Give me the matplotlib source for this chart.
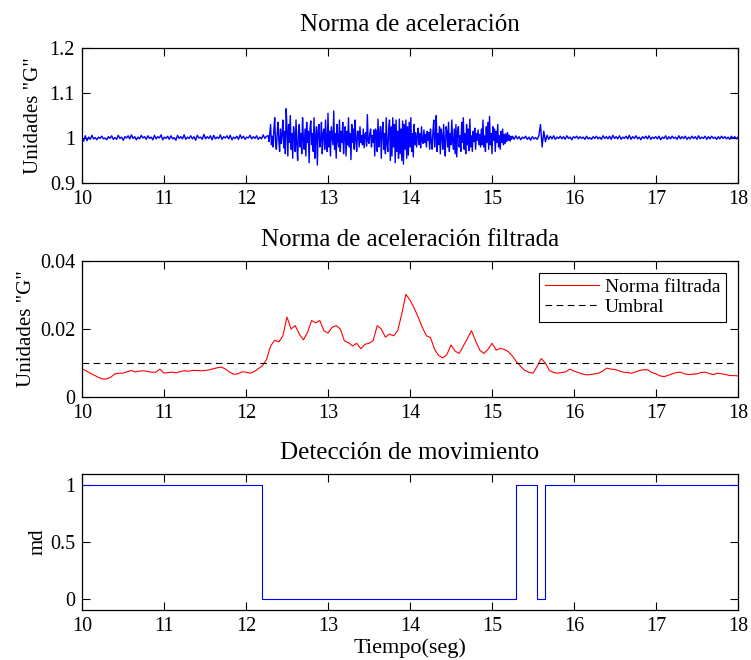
import numpy as np
import matplotlib
matplotlib.use("Agg")
import matplotlib.pyplot as plt

# ---------------- data ----------------
# Acceleration norm: deviation from 1 G, in thousandths of G, read per segment
acc_seg_edges = [10.0, 12.27, 15.25, 18.0]
acc_dev_quiet1 = [3, -7, 5, -6, 2, -3, 6, -2, 1, -4, 2, -1, 4, -2, 0, -4, 3, -1, 5, -3,
                  1, -3, 6, -1, 2, -5, 3, 0, 5, -2, 7, -1, 3, -4, 2, -2, 6, 0, 3, -3,
                  5, -1, 2, -4, 6, -2, 3, 0, 7, -4, 2, -1, 4, -3, 5, -2, 1, -5, 6, -1,
                  3, -2, 7, -3, 2, -1, 5, -2, 3, -5, 6, 0, 2, -3, 8, -2, 3, -1, 5, -4,
                  6, -2, 2, -1, 7, -3, 3, 0, 5, -2, 6, -4, 2, -1, 4, -3, 7, -1, 4, -3,
                  2, 0, 6, -2, 3, -1, 5, -3, 2, -2, 7, -1, 4]
acc_dev_active = [5, -8, 12, 30, -15, 4, -20, 18, 45, -10,
                  -25, 10, 35, -5, -30, 20, -12, 8, 40, -22,
                  15, -35, 65, 20, -40, 30, -10, 50, -25, 10,
                  -45, 25, 5, -30, 40, -15, -50, 15, 30, -20,
                  10, -35, 45, -5, -25, 20, -40, 35, -10, 15,
                  -55, 20, 38, -15, 10, -30, 45, -45, 5, 25,
                  -60, 15, 30, -20, -5, 35, -35, 10, 20, -25,
                  40, -10, -30, 55, -20, 15, -40, 25, 5, -15,
                  60, -25, 10, -45, 30, -5, -20, 40, -30, 15,
                  -10, 35, -35, 5, 25, -40, 15, -15, 45, -20,
                  10, -48, 30, -10, 20, -25, 40, -5, -30, 15,
                  15, -20, 25, -10, 5, -15, 20, -22, 8, 12,
                  -18, 52, -8, -12, 10, 20, -20, 5, -10, 18,
                  -40, 20, 10, -30, 42, -20, 5, 25, -45, 15,
                  35, -25, 10, -35, 45, -15, -30, 20, 40, -50,
                  25, -40, 45, -20, 30, -55, 40, -30, 15, -45,
                  42, -35, 20, -50, 38, -58, 30, -25, 40, -45,
                  25, -38, 35, -20, 45, -30, 10, -42, 30, -15,
                  12, -20, 5, 22, -15, 10, -22, 25, -8, -12,
                  18, -10, 8, -20, 15, -5, 12, -25, 20, -8,
                  -25, 15, 40, -20, 5, 50, -30, 10, -15, 25,
                  -35, 20, 5, -25, 30, -10, -40, 25, 15, -20,
                  35, -30, 10, -15, 40, -5, -25, 20, -35, 30,
                  -42, 15, 25, -20, 5, -30, 35, -10, 45, -25,
                  10, -35, 30, -15, 20, -28, 42, -20, 5, -30,
                  15, -8, 22, -25, 10, -5, 18, -15, 8, -20,
                  20, -15, 40, -20, 5, -30, 25, -10, 35, -25,
                  48, -15, 10, -35, 25, -5, 20, -30, 15, -10,
                  30, -20, 5, -25, 15, -10, 20, -15, 8, -12,
                  10, -8, 12, -5, 6, -7, 4, -3]
acc_dev_quiet2 = [4, -3, 5, -2, 3, -4, 2, -1, 4, -3, 2, -5, 3, -2, 1, -3, 5, 30, -20, 15,
                  -8, 6, -3, 4, -2, 5, -3, 2, -1, 4, -2, 3, -3, 5, -1, 2, -4, 3, 0, 4,
                  -2, 3, -1, 2, -3, 4, -2, 1, -3, 3, -1, 4, -2, 2, -3, 5, -1, 3, -2, 4,
                  -3, 6, -1, 3, -2, 5, -3, 2, -1, 4, -2, 6, -3, 3, -1, 5, -2, 2, -4, 3,
                  -1, 4, -2, 5, -3, 2, -1, 3, -2, 4, -4, 2, -1, 5, -3, 3, -2, 4, -1, 2,
                  -3, 5, -2, 3, -1, 4, -3, 2, -2, 4, -1, 3, -3, 5, -2, 2, -1, 4, -3, 3,
                  -2, 4, -1, 2, -3, 3, -2, 4, -1, 3, -2, 2, -3, 4, -1, 3, -2, 2]

# Filtered norm (G)
filt_t = [10.0, 10.05, 10.1, 10.15, 10.2, 10.25, 10.3, 10.35, 10.4, 10.45, 10.5, 10.55, 10.6, 10.65,
          10.7, 10.75, 10.8, 10.85, 10.9, 10.95, 11.0, 11.05, 11.1, 11.15, 11.2, 11.25, 11.3, 11.35,
          11.4, 11.45, 11.5, 11.55, 11.6, 11.65, 11.7, 11.75, 11.8, 11.85, 11.9, 11.95, 12.0, 12.05,
          12.1, 12.15, 12.2, 12.25, 12.3, 12.35, 12.4, 12.45, 12.5, 12.55, 12.6, 12.65, 12.7, 12.75,
          12.8, 12.85, 12.9, 12.95, 13.0, 13.05, 13.1, 13.15, 13.2, 13.25, 13.3, 13.35, 13.4, 13.45,
          13.5, 13.55, 13.6, 13.65, 13.7, 13.75, 13.8, 13.85, 13.9, 13.95, 14.0, 14.05, 14.1, 14.15,
          14.2, 14.25, 14.3, 14.35, 14.4, 14.45, 14.5, 14.55, 14.6, 14.65, 14.7, 14.75, 14.8, 14.85,
          14.9, 14.95, 15.0, 15.05, 15.1, 15.15, 15.2, 15.25, 15.3, 15.35, 15.4, 15.45, 15.5, 15.55,
          15.6, 15.65, 15.7, 15.75, 15.8, 15.85, 15.9, 15.95, 16.0, 16.05, 16.1, 16.15, 16.2, 16.25,
          16.3, 16.35, 16.4, 16.45, 16.5, 16.55, 16.6, 16.65, 16.7, 16.75, 16.8, 16.85, 16.9, 16.95,
          17.0, 17.05, 17.1, 17.15, 17.2, 17.25, 17.3, 17.35, 17.4, 17.45, 17.5, 17.55, 17.6, 17.65,
          17.7, 17.75, 17.8, 17.85, 17.9, 17.95, 18.0]
filt_v = [0.0083, 0.0077, 0.0070, 0.0064, 0.0058, 0.0053, 0.0053, 0.0058, 0.0068, 0.0070, 0.0070, 0.0074, 0.0078, 0.0074,
          0.0076, 0.0077, 0.0075, 0.0073, 0.0073, 0.0082, 0.0070, 0.0072, 0.0073, 0.0071, 0.0075, 0.0077, 0.0076, 0.0078,
          0.0078, 0.0077, 0.0078, 0.0080, 0.0083, 0.0086, 0.0088, 0.0082, 0.0073, 0.0067, 0.0068, 0.0074, 0.0073, 0.0070,
          0.0075, 0.0083, 0.0092, 0.0110, 0.0150, 0.0167, 0.0162, 0.0180, 0.0235, 0.0200, 0.0210, 0.0185, 0.0168, 0.0190,
          0.0225, 0.0218, 0.0225, 0.0195, 0.0188, 0.0205, 0.0210, 0.0200, 0.0165, 0.0160, 0.0150, 0.0158, 0.0142, 0.0155,
          0.0158, 0.0165, 0.0210, 0.0200, 0.0176, 0.0185, 0.0180, 0.0195, 0.0245, 0.0302, 0.0285, 0.0262, 0.0235, 0.0205,
          0.0180, 0.0175, 0.0140, 0.0122, 0.0115, 0.0125, 0.0153, 0.0135, 0.0128, 0.0150, 0.0172, 0.0195, 0.0165, 0.0138,
          0.0128, 0.0140, 0.0158, 0.0138, 0.0143, 0.0140, 0.0133, 0.0120, 0.0103, 0.0090, 0.0078, 0.0073, 0.0070, 0.0090,
          0.0113, 0.0100, 0.0078, 0.0072, 0.0070, 0.0072, 0.0074, 0.0082, 0.0076, 0.0072, 0.0068, 0.0065, 0.0066, 0.0068,
          0.0070, 0.0076, 0.0085, 0.0082, 0.0081, 0.0077, 0.0073, 0.0072, 0.0070, 0.0074, 0.0078, 0.0080, 0.0080, 0.0072,
          0.0068, 0.0062, 0.0060, 0.0064, 0.0068, 0.0072, 0.0073, 0.0068, 0.0066, 0.0067, 0.0068, 0.0072, 0.0073, 0.0069,
          0.0066, 0.0070, 0.0068, 0.0066, 0.0063, 0.0063, 0.0062]
umbral = 0.01

# Motion detection (step signal): change times and levels
md_t = [10.0, 12.19, 12.19, 15.29, 15.29, 15.55, 15.55, 15.65, 15.65, 18.0]
md_v = [1, 1, 0, 0, 1, 1, 0, 0, 1, 1]

# ---------------- plot ----------------
plt.rcParams['font.family'] = ['Liberation Serif', 'DejaVu Serif']

fig = plt.figure(figsize=(7.51, 6.60), dpi=100)
L, W = 82 / 751, 656 / 751
ax1 = fig.add_axes([L, 1 - 183 / 660, W, 135 / 660])
ax2 = fig.add_axes([L, 1 - 397 / 660, W, 136 / 660])
ax3 = fig.add_axes([L, 1 - 610 / 660, W, 136 / 660])

tick_fs = 14.5
title_fs = 18
ylabel_fs = 15
xlabel_fs = 16

# top: acceleration norm
seg_lists = [acc_dev_quiet1, acc_dev_active, acc_dev_quiet2]
ts, vs = [], []
for i, seg in enumerate(seg_lists):
    a, b = acc_seg_edges[i], acc_seg_edges[i + 1]
    last = (i == len(seg_lists) - 1)
    ts.append(np.linspace(a, b, len(seg), endpoint=last))
    vs.append(1.0 + np.array(seg) / 1000.0)
acc_t = np.concatenate(ts)
acc_v = np.concatenate(vs)
ax1.plot(acc_t, acc_v, color=(0, 0, 1), lw=1.0)
ax1.set_xlim(10, 18)
ax1.set_ylim(0.9, 1.2)
ax1.set_yticks([0.9, 1.0, 1.1, 1.2])
ax1.set_yticklabels(['0.9', '1', '1.1', '1.2'])
ax1.set_title('Norma de aceleración', fontsize=title_fs, pad=12)
ax1.set_ylabel('Unidades "G"', fontsize=ylabel_fs, labelpad=5)

# middle: filtered
ax2.plot(filt_t, filt_v, color=(1, 0, 0), lw=0.8, label='Norma filtrada')
ax2.plot([10, 18], [umbral, umbral], color='k', lw=0.8, ls=(0, (6, 4)), label='Umbral')
ax2.set_xlim(10, 18)
ax2.set_ylim(0, 0.04)
ax2.set_yticks([0, 0.02, 0.04])
ax2.set_yticklabels(['0', '0.02', '0.04'])
ax2.set_title('Norma de aceleración filtrada', fontsize=title_fs, pad=11)
ax2.set_ylabel('Unidades "G"', fontsize=ylabel_fs, labelpad=3)
leg = ax2.legend(loc='upper right', fontsize=14, frameon=True, fancybox=False,
                 edgecolor='k', framealpha=1, handlelength=2.8, borderpad=0.3,
                 labelspacing=0.1, handletextpad=0.3, borderaxespad=0.6)
leg.get_frame().set_linewidth(0.8)

# bottom: detection
ax3.plot(md_t, md_v, color=(0, 0, 1), lw=0.8)
ax3.set_xlim(10, 18)
ax3.set_ylim(-0.1, 1.1)
ax3.set_yticks([0, 0.5, 1])
ax3.set_yticklabels(['0', '0.5', '1'])
ax3.set_title('Detección de movimiento', fontsize=title_fs, pad=11)
ax3.set_ylabel('md', fontsize=ylabel_fs, labelpad=2)
ax3.set_xlabel('Tiempo(seg)', fontsize=xlabel_fs, labelpad=2)

for ax in (ax1, ax2, ax3):
    ax.set_xticks(range(10, 19))
    ax.tick_params(direction='in', top=True, right=True, length=6, width=0.8,
                   labelsize=tick_fs, pad=5)
    for s in ax.spines.values():
        s.set_linewidth(0.9)

fig.savefig('out.png', dpi=100)
